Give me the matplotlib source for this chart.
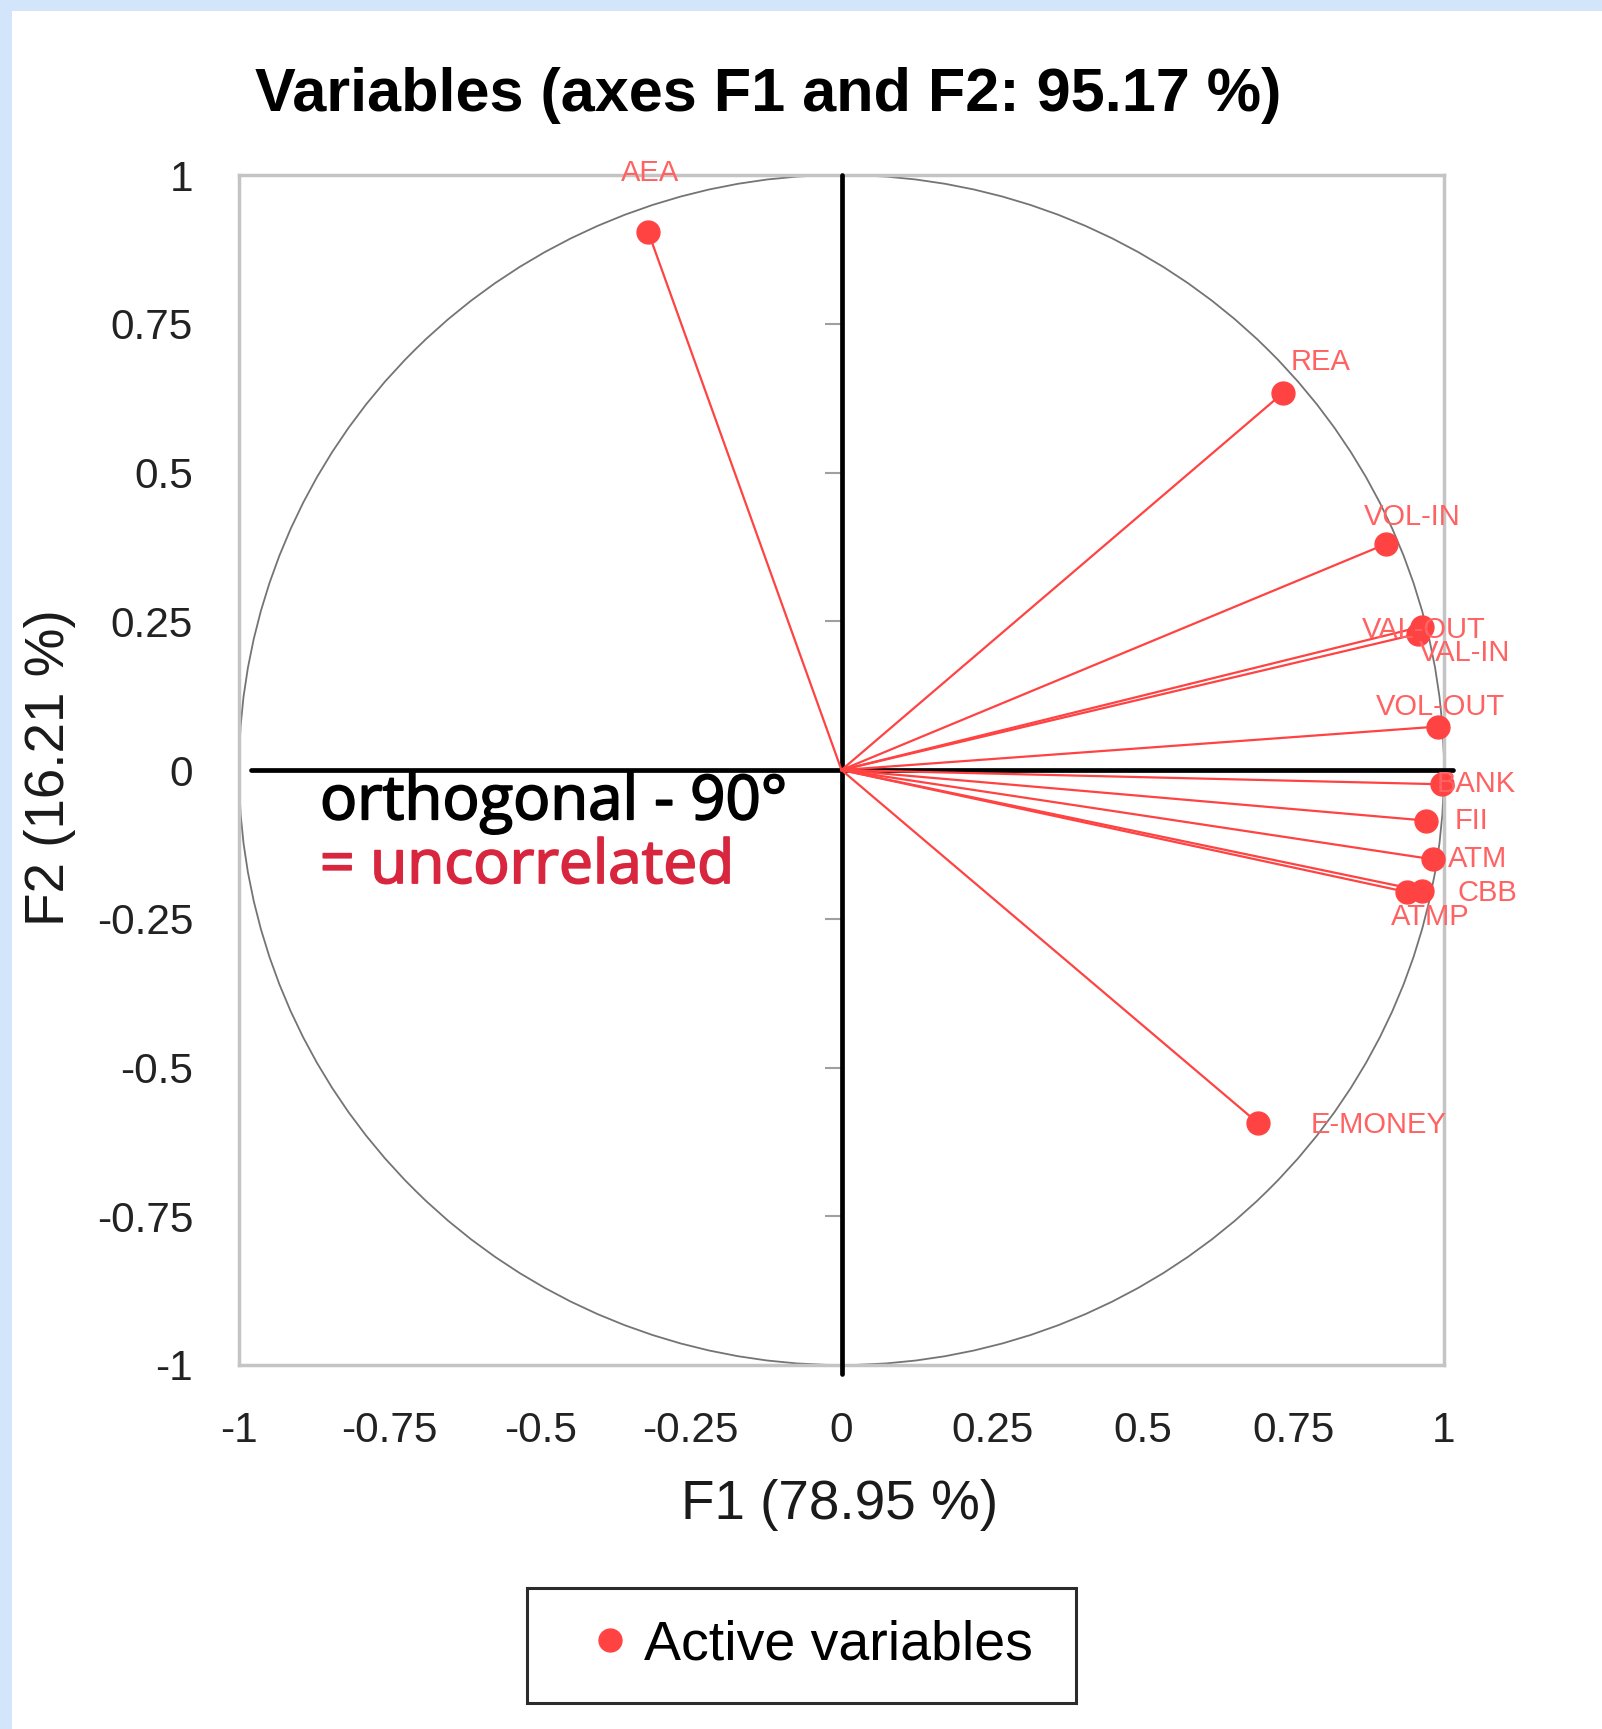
import matplotlib.pyplot as plt
import matplotlib.patheffects as pe
from matplotlib.patches import Circle, Rectangle

# correlations of the variables with F1 / F2
variables = ['AEA', 'REA', 'VOL-IN', 'VAL-OUT', 'VAL-IN', 'VOL-OUT',
             'BANK', 'FII', 'ATM', 'CBB', 'ATMP', 'E-MONEY']
f1 = [-0.321, 0.732, 0.904, 0.963, 0.957, 0.990, 0.996, 0.970, 0.981, 0.963, 0.938, 0.692]
f2 = [0.905, 0.633, 0.380, 0.241, 0.229, 0.073, -0.024, -0.085, -0.150, -0.203, -0.205, -0.594]

ticks = [-1, -0.75, -0.5, -0.25, 0, 0.25, 0.5, 0.75, 1]
tick_labels = ['-1', '-0.75', '-0.5', '-0.25', '0', '0.25', '0.5', '0.75', '1']

title = 'Variables (axes F1 and F2: 95.17 %)'
xlabel = 'F1 (78.95 %)'
ylabel = 'F2 (16.21 %)'

# label offsets in pixels (dx, dy, ha)
label_pos = {
    'AEA': (2, 59, 'center'), 'REA': (8, 31, 'left'), 'VOL-IN': (26, 27, 'center'),
    'VAL-OUT': (2, -3, 'center'), 'VAL-IN': (46, -19, 'center'), 'VOL-OUT': (2, 20, 'center'),
    'BANK': (-5, 0, 'left'), 'FII': (29, 0, 'left'), 'ATM': (15, 0, 'left'),
    'CBB': (36, -2, 'left'), 'ATMP': (24, -25, 'center'), 'E-MONEY': (52, -2, 'left'),
}

red = '#ff4343'
W, H = 1602, 1729
fig = plt.figure(figsize=(W / 100, H / 100), dpi=100, facecolor='#d2e5fb')
fig.patches.append(Rectangle((12 / W, 0), 1, 1 - 11 / H, transform=fig.transFigure,
                             facecolor='white', edgecolor='none', zorder=-2))

ax = fig.add_axes([239 / W, 1 - 1365 / H, 1205 / W, 1190 / H])
ax.set_zorder(1)
ax.set_xlim(-1, 1)
ax.set_ylim(-1, 1)
for s in ax.spines.values():
    s.set_color('#c4c4c4')
    s.set_linewidth(2.5)

ax.add_patch(Circle((0, 0), 1, fill=False, color='#747474', lw=1.3, zorder=2))
ax.plot([-0.98, 1.015], [0, 0], color='black', lw=3.4, solid_capstyle='round', zorder=3,
        clip_on=False)
ax.plot([0, 0], [1, -1.015], color='black', lw=3.4, solid_capstyle='round', zorder=3,
        clip_on=False)
inner = [t for t in ticks if t not in (-1, 0, 1)]
ax.hlines(inner, -0.028, 0, color='#a0a0a0', lw=1.5, zorder=2)

for name, x, y in zip(variables, f1, f2):
    ax.plot([0, x], [0, y], color=red, lw=1.6, zorder=4)
ax.plot(f1, f2, 'o', color=red, ms=16.5, ls='none', zorder=5, label='Active variables',
        clip_on=False)

for name, x, y in zip(variables, f1, f2):
    dx, dy, ha = label_pos[name]
    ax.annotate(name, (x, y), xytext=(dx, dy), textcoords='offset pixels',
                ha=ha, va='center', fontsize=21, color='#ff6262',
                family='Liberation Sans', zorder=6)

ax.set_xticks(ticks)
ax.set_xticklabels(tick_labels)
ax.set_yticks(ticks)
ax.set_yticklabels(tick_labels)
ax.tick_params(length=0, pad=33, labelsize=30.5, labelcolor='#222222')
for lab in ax.get_xticklabels() + ax.get_yticklabels():
    lab.set_family('Liberation Sans')

ax.set_xlabel(xlabel, fontsize=39.5, family='Liberation Sans', color='#1a1a1a', va='center')
ax.xaxis.set_label_coords(0.4988, -0.1176)
ax.set_ylabel(ylabel, fontsize=39.5, family='Liberation Sans', color='#1a1a1a', va='center')
ax.yaxis.set_label_coords(-0.157, 0.5017)

fig.text(768 / W, 1 - 96 / H, title, ha='center', va='center', fontsize=44,
         fontweight='bold', family='Liberation Sans')

fig.text(320 / W, 1 - 803 / H, 'orthogonal - 90°', ha='left', va='center',
         fontsize=44.5, family='Open Sans', color='black', zorder=5,
         path_effects=[pe.withStroke(linewidth=1.3, foreground='black')])
fig.text(320 / W, 1 - 867 / H, '= uncorrelated', ha='left', va='center',
         fontsize=43.5, family='Open Sans', color='#d7263d', zorder=5,
         path_effects=[pe.withStroke(linewidth=1.3, foreground='#d7263d')])

# legend: frame drawn by hand, entries by matplotlib
fig.patches.append(Rectangle((527 / W, 1 - 1703 / H), 549 / W, 115 / H,
                             transform=fig.transFigure, facecolor='white',
                             edgecolor='#2b2b2b', lw=2.2, zorder=1))
leg = fig.legend(loc='center left', bbox_to_anchor=(582 / W, 1 - 1645 / H),
                 bbox_transform=fig.transFigure, frameon=False,
                 prop={'family': 'Liberation Sans', 'size': 40}, borderpad=0,
                 borderaxespad=0, handlelength=1.0, handletextpad=0.115, markerscale=1.0)
leg.set_zorder(3)

fig.savefig('out.png', dpi=100, facecolor=fig.get_facecolor())
